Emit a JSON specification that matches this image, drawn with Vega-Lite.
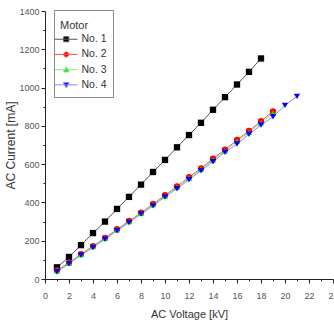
{
  "$schema": "https://vega.github.io/schema/vega-lite/v6.json",
  "width": 288,
  "height": 268,
  "autosize": {"type": "none"},
  "padding": {"left": 45, "top": 11, "right": 1, "bottom": 41},
  "background": "white",
  "config": {
    "view": {"stroke": null},
    "font": "Liberation Sans",
    "axis": {
      "domainColor": "#222",
      "tickColor": "#222",
      "labelColor": "#555",
      "labelFontSize": 9,
      "titleFontWeight": "normal",
      "titleColor": "#333",
      "grid": false
    }
  },
  "data": {
    "values": [
      {"motor": "No. 1", "v": 1, "i": 61}, {"motor": "No. 1", "v": 2, "i": 115}, {"motor": "No. 1", "v": 3, "i": 177},
      {"motor": "No. 1", "v": 4, "i": 240}, {"motor": "No. 1", "v": 5, "i": 300}, {"motor": "No. 1", "v": 6, "i": 366},
      {"motor": "No. 1", "v": 7, "i": 429}, {"motor": "No. 1", "v": 8, "i": 493}, {"motor": "No. 1", "v": 9, "i": 559},
      {"motor": "No. 1", "v": 10, "i": 622}, {"motor": "No. 1", "v": 11, "i": 688}, {"motor": "No. 1", "v": 12, "i": 752},
      {"motor": "No. 1", "v": 13, "i": 816}, {"motor": "No. 1", "v": 14, "i": 884}, {"motor": "No. 1", "v": 15, "i": 950},
      {"motor": "No. 1", "v": 16, "i": 1016}, {"motor": "No. 1", "v": 17, "i": 1082}, {"motor": "No. 1", "v": 18, "i": 1152},
      {"motor": "No. 2", "v": 1, "i": 45}, {"motor": "No. 2", "v": 2, "i": 85}, {"motor": "No. 2", "v": 3, "i": 130},
      {"motor": "No. 2", "v": 4, "i": 172}, {"motor": "No. 2", "v": 5, "i": 215}, {"motor": "No. 2", "v": 6, "i": 260},
      {"motor": "No. 2", "v": 7, "i": 303}, {"motor": "No. 2", "v": 8, "i": 347}, {"motor": "No. 2", "v": 9, "i": 392},
      {"motor": "No. 2", "v": 10, "i": 438}, {"motor": "No. 2", "v": 11, "i": 484}, {"motor": "No. 2", "v": 12, "i": 532},
      {"motor": "No. 2", "v": 13, "i": 578}, {"motor": "No. 2", "v": 14, "i": 628}, {"motor": "No. 2", "v": 15, "i": 676},
      {"motor": "No. 2", "v": 16, "i": 726}, {"motor": "No. 2", "v": 17, "i": 774}, {"motor": "No. 2", "v": 18, "i": 824},
      {"motor": "No. 2", "v": 19, "i": 876},
      {"motor": "No. 3", "v": 1, "i": 44}, {"motor": "No. 3", "v": 2, "i": 84}, {"motor": "No. 3", "v": 3, "i": 128},
      {"motor": "No. 3", "v": 4, "i": 170}, {"motor": "No. 3", "v": 5, "i": 213}, {"motor": "No. 3", "v": 6, "i": 257},
      {"motor": "No. 3", "v": 7, "i": 300}, {"motor": "No. 3", "v": 8, "i": 344}, {"motor": "No. 3", "v": 9, "i": 389},
      {"motor": "No. 3", "v": 10, "i": 434}, {"motor": "No. 3", "v": 11, "i": 480}, {"motor": "No. 3", "v": 12, "i": 527},
      {"motor": "No. 3", "v": 13, "i": 573}, {"motor": "No. 3", "v": 14, "i": 622}, {"motor": "No. 3", "v": 15, "i": 670},
      {"motor": "No. 3", "v": 16, "i": 719}, {"motor": "No. 3", "v": 17, "i": 767}, {"motor": "No. 3", "v": 18, "i": 816},
      {"motor": "No. 3", "v": 19, "i": 866},
      {"motor": "No. 4", "v": 1, "i": 38}, {"motor": "No. 4", "v": 2, "i": 80}, {"motor": "No. 4", "v": 3, "i": 125},
      {"motor": "No. 4", "v": 4, "i": 165}, {"motor": "No. 4", "v": 5, "i": 208}, {"motor": "No. 4", "v": 6, "i": 252},
      {"motor": "No. 4", "v": 7, "i": 295}, {"motor": "No. 4", "v": 8, "i": 339}, {"motor": "No. 4", "v": 9, "i": 382},
      {"motor": "No. 4", "v": 10, "i": 429}, {"motor": "No. 4", "v": 11, "i": 472}, {"motor": "No. 4", "v": 12, "i": 519},
      {"motor": "No. 4", "v": 13, "i": 566}, {"motor": "No. 4", "v": 14, "i": 613}, {"motor": "No. 4", "v": 15, "i": 662},
      {"motor": "No. 4", "v": 16, "i": 705}, {"motor": "No. 4", "v": 17, "i": 756}, {"motor": "No. 4", "v": 18, "i": 804},
      {"motor": "No. 4", "v": 19, "i": 848}, {"motor": "No. 4", "v": 20, "i": 907}, {"motor": "No. 4", "v": 21, "i": 954}
    ]
  },
  "encoding": {
    "x": {
      "field": "v", "type": "quantitative",
      "scale": {"domain": [0, 24], "nice": false, "zero": true},
      "axis": {
        "title": "AC Voltage [kV]",
        "titleFontSize": 11,
        "titlePadding": 8,
        "values": [0,1,2,3,4,5,6,7,8,9,10,11,12,13,14,15,16,17,18,19,20,21,22,23,24],
        "labelExpr": "datum.value % 2 ? '' : datum.label",
        "tickSize": {"condition": {"test": "datum.value % 2", "value": 2}, "value": 4},
        "labelPadding": 8,
        "labelFlush": false
      }
    },
    "y": {
      "field": "i", "type": "quantitative",
      "scale": {"domain": [0, 1400], "nice": false},
      "axis": {
        "title": "AC Current [mA]",
        "titleFontSize": 12,
        "titlePadding": 1,
        "values": [0,100,200,300,400,500,600,700,800,900,1000,1100,1200,1300,1400],
        "labelExpr": "datum.value % 200 ? '' : datum.label",
        "tickSize": {"condition": {"test": "datum.value % 200", "value": 2}, "value": 4},
        "labelPadding": 2,
        "labelFlush": false,
        "format": "d"
      }
    }
  },
  "layer": [
    {
      "mark": {"type": "line", "strokeWidth": 1},
      "encoding": {
        "color": {
          "condition": [
            {"test": "datum.motor === 'No. 1'", "value": "#555555"},
            {"test": "datum.motor === 'No. 2'", "value": "#ff5050"},
            {"test": "datum.motor === 'No. 3'", "value": "#80e880"}
          ],
          "value": "#8888ff"
        },
        "detail": {"field": "motor"}
      }
    },
    {
      "mark": {"type": "point", "filled": true, "opacity": 1, "size": 40},
      "encoding": {
        "color": {
          "condition": [
            {"test": "datum.motor === 'No. 1'", "value": "#000000"},
            {"test": "datum.motor === 'No. 2'", "value": "#ff0000"},
            {"test": "datum.motor === 'No. 3'", "value": "#11dd11"}
          ],
          "value": "#0000ff"
        },
        "shape": {
          "condition": [
            {"test": "datum.motor === 'No. 1'", "value": "square"},
            {"test": "datum.motor === 'No. 2'", "value": "circle"},
            {"test": "datum.motor === 'No. 3'", "value": "triangle-up"}
          ],
          "value": "triangle-down"
        }
      }
    },
    {
      "transform": [{"filter": "datum.motor === 'none'"}],
      "mark": {"type": "point", "filled": true, "opacity": 1, "strokeWidth": 1},
      "encoding": {
        "fill": {
          "field": "motor", "type": "nominal",
          "scale": {"domain": ["No. 1", "No. 2", "No. 3", "No. 4"], "range": ["#000000", "#ff0000", "#11dd11", "#0000ff"]},
          "legend": {
            "title": "Motor",
            "orient": "none",
            "legendX": 9,
            "legendY": -1,
            "padding": 6,
            "strokeColor": "#888888",
            "fillColor": "white",
            "titleFont": "Liberation Sans",
            "titleFontSize": 11,
            "titleFontWeight": "normal",
            "titleColor": "#333",
            "titleBaseline": "line-top",
            "titleLineHeight": 19,
            "titlePadding": 7,
            "labelFont": "Liberation Sans",
            "labelFontSize": 10.5,
            "labelColor": "#333",
            "symbolSize": 25,
            "symbolStrokeWidth": 1,
            "symbolOffset": 1,
            "labelOffset": 10,
            "rowPadding": 4.2
          }
        },
        "stroke": {
          "field": "motor", "type": "nominal",
          "scale": {"domain": ["No. 1", "No. 2", "No. 3", "No. 4"], "range": ["#555555", "#ff5050", "#80e880", "#8888ff"]},
          "legend": {"title": "Motor"}
        },
        "shape": {
          "field": "motor", "type": "nominal",
          "scale": {"domain": ["No. 1", "No. 2", "No. 3", "No. 4"], "range": ["M-4.5,0H4.5M-1,-1H1V1H-1Z", "M-4.5,0H4.5M-1,0A1,1 0 1,0 1,0A1,1 0 1,0 -1,0Z", "M-4.5,0H4.5M0,-1.15L1.15,0.9L-1.15,0.9Z", "M-4.5,0H4.5M0,1.15L1.15,-0.9L-1.15,-0.9Z"]},
          "legend": {"title": "Motor"}
        }
      }
    }
  ]
}
